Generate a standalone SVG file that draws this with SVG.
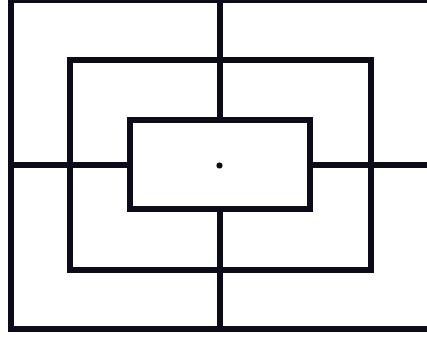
<svg xmlns="http://www.w3.org/2000/svg" width="427" height="340" viewBox="0 0 427 340">
  <style>
    .ln { fill: none; stroke: #0b0b1a; stroke-width: 6; stroke-linecap: square; stroke-linejoin: miter; }
  </style>
  <rect width="427" height="340" fill="#ffffff"/>
  <g id="connectors">
    <line class="ln" x1="220" y1="0" x2="220" y2="120"/>
    <line class="ln" x1="220" y1="209" x2="220" y2="329"/>
    <line class="ln" x1="11" y1="165" x2="130" y2="165"/>
    <line class="ln" x1="310" y1="165" x2="430" y2="165"/>
  </g>
  <g id="outer-rect">
    <path class="ln" d="M430,0 H11 V329 H430"/>
  </g>
  <g id="middle-rect">
    <rect class="ln" x="70" y="60" width="301" height="210"/>
  </g>
  <g id="inner-rect">
    <rect class="ln" x="130" y="120" width="180" height="89"/>
  </g>
  <g id="center-dot">
    <circle cx="219.5" cy="165.5" r="3" fill="#0b0b1a"/>
  </g>
</svg>
